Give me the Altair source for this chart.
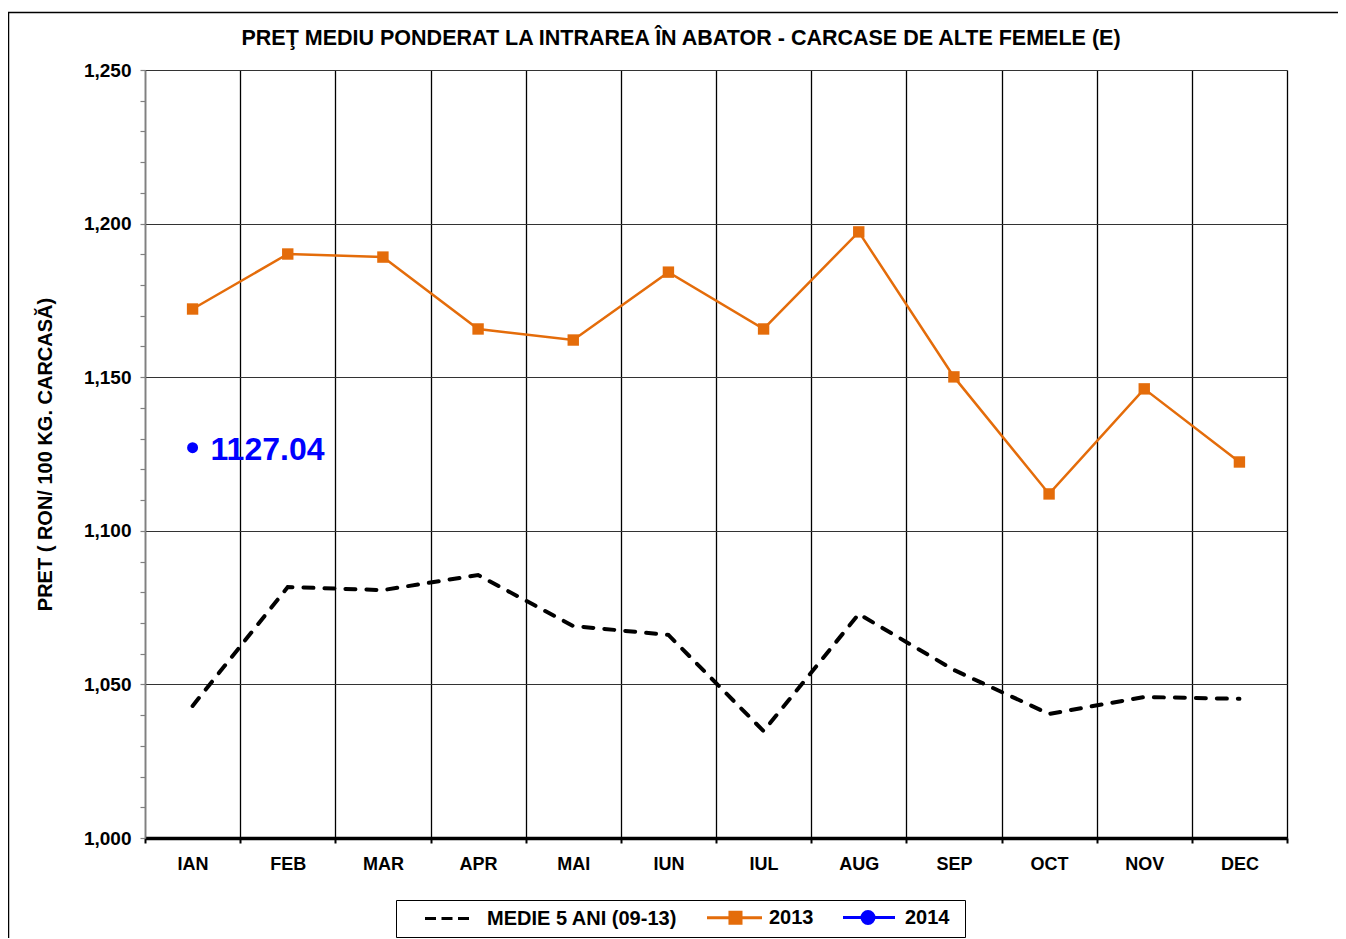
import altair as alt
import pandas as pd

MONTHS = ["IAN", "FEB", "MAR", "APR", "MAI", "IUN", "IUL", "AUG", "SEP", "OCT", "NOV", "DEC"]
MEDIE_5_ANI = [1043.0, 1081.7, 1080.7, 1085.6, 1069.0, 1066.1, 1034.8, 1072.9, 1054.7, 1040.4, 1045.9, 1045.3]
AN_2013 = [1172.2, 1190.1, 1189.1, 1165.7, 1162.1, 1184.2, 1165.7, 1197.3, 1150.1, 1112.0, 1146.2, 1122.4]
AN_2014_MONTHS = ["IAN"]
AN_2014 = [1127.04]
SERIES = ["MEDIE 5 ANI (09-13)", "2013", "2014"]
COLORS = ["#000000", "#E46C0A", "#0000FF"]
Y_TICKS = list(range(1000, 1251, 10))

TITLE = "PREŢ MEDIU PONDERAT LA INTRAREA ÎN ABATOR - CARCASE DE ALTE  FEMELE (E)"
Y_TITLE = "PRET ( RON/ 100 KG. CARCASĂ)"
FONT = "Liberation Sans"

# legend symbols: line + marker drawn as custom paths (units of sqrt(size)/2)
LEGEND_PATHS = [
    "M-1,0H0.375M1.0625,0H2.4375M3.125,0H4.5",
    "M-1,0H5.875M1.87,-0.69H3.25V0.69H1.87Z",
    "M-1,0H5.5M1.375,0A0.75,0.75 0 1,0 2.875,0A0.75,0.75 0 1,0 1.375,0ZM12.6,0",
]

df = pd.DataFrame({
    "luna": MONTHS + MONTHS,
    "valoare": MEDIE_5_ANI + AN_2013,
    "serie": [SERIES[0]] * len(MONTHS) + [SERIES[1]] * len(MONTHS),
})
df14 = pd.DataFrame({
    "luna": AN_2014_MONTHS,
    "valoare": AN_2014,
    "eticheta": [f"{v:.2f}" for v in AN_2014],
})
df_leg = pd.DataFrame({"serie": SERIES})
df_frame = pd.DataFrame({"f": [0]})

x_enc = alt.X(
    "luna:N",
    sort=MONTHS,
    bandPosition=0.5,
    scale=alt.Scale(type="band", domain=MONTHS, paddingInner=0, paddingOuter=0),
    axis=alt.Axis(
        title=None,
        tickBand="extent",
        labelAngle=0,
        labelFont=FONT,
        labelFontSize=18,
        labelFontWeight="bold",
        labelColor="black",
        labelPadding=12,
        tickSize=5,
        tickWidth=2,
        tickColor="black",
        domainColor="black",
        domainWidth=3.5,
        grid=True,
        gridColor="black",
        gridWidth=1.3,
    ),
)
y_enc = alt.Y(
    "valoare:Q",
    scale=alt.Scale(domain=[1000, 1250], nice=False, zero=False),
    axis=alt.Axis(
        title=Y_TITLE,
        values=Y_TICKS,
        labelExpr="datum.value % 50 === 0 ? format(datum.value, ',') : ''",
        labelFont=FONT,
        labelFontSize=19,
        labelFontWeight="bold",
        labelColor="black",
        labelPadding=9,
        tickSize=5,
        tickWidth=1.2,
        tickColor="#808080",
        domainColor="#808080",
        domainWidth=1.5,
        grid=True,
        gridColor="#333333",
        gridWidth=1.2,
        gridOpacity={"condition": {"test": "datum.value % 50 === 0", "value": 1}, "value": 0},
        titleFont=FONT,
        titleFontSize=20,
        titleFontWeight="bold",
        titleColor="black",
        titleAngle=270,
        titleX=-100,
        titleY=384,
        titleAlign="center",
        titleBaseline="middle",
    ),
)

base = alt.Chart(df)

medie = base.mark_line(
    color="black", strokeWidth=4, strokeDash=[10, 11], strokeCap="round"
).encode(x=x_enc, y=y_enc).transform_filter(alt.datum.serie == SERIES[0])

line13 = base.mark_line(color=COLORS[1], strokeWidth=2.5).encode(
    x=x_enc, y=y_enc
).transform_filter(alt.datum.serie == SERIES[1])

pts13 = base.mark_point(
    shape="square", filled=True, size=130, color=COLORS[1], opacity=1
).encode(x=x_enc, y=y_enc).transform_filter(alt.datum.serie == SERIES[1])

pt14 = alt.Chart(df14).mark_point(
    shape="circle", filled=True, size=120, color=COLORS[2], opacity=1
).encode(x=x_enc, y=y_enc)

txt14 = alt.Chart(df14).mark_text(
    align="left", baseline="middle", dx=18, dy=2, font=FONT, fontSize=32,
    fontWeight="bold", color=COLORS[2]
).encode(x=x_enc, y=y_enc, text="eticheta:N")

leg = alt.Legend(
    title=" ",
    titleOrient="left",
    titlePadding=20,
    titleFontSize=11,
    orient="none",
    legendX=251,
    legendY=830,
    direction="horizontal",
    columns=3,
    strokeColor="black",
    padding=7,
    labelFont=FONT,
    labelFontSize=20,
    labelFontWeight="bold",
    labelColor="black",
    labelOffset=44,
    labelLimit=400,
    columnPadding=23,
    symbolSize=256,
    symbolStrokeWidth=3,
)

legend_layer = alt.Chart(df_leg).mark_point(filled=True, opacity=1).encode(
    fill=alt.Fill("serie:N", scale=alt.Scale(domain=SERIES, range=COLORS), legend=leg),
    stroke=alt.Stroke("serie:N", scale=alt.Scale(domain=SERIES, range=COLORS), legend=leg),
    shape=alt.Shape("serie:N", scale=alt.Scale(domain=SERIES, range=LEGEND_PATHS), legend=leg),
).transform_filter("false")

frame = alt.Chart(df_frame).mark_rect(
    fillOpacity=0, stroke="black", strokeWidth=1.5
).encode(
    x=alt.value(-136.5), x2=alt.value(1230), y=alt.value(-57.5), y2=alt.value(900)
)

chart = alt.layer(
    frame, medie, line13, pts13, pt14, txt14, legend_layer
).properties(
    width=1142,
    height=768,
    autosize=alt.AutoSizeParams(type="none"),
    padding={"left": 137, "top": 62, "right": 51, "bottom": 100},
    title=alt.TitleParams(
        text=TITLE,
        font=FONT,
        fontSize=21.5,
        fontWeight="bold",
        color="black",
        anchor="middle",
        frame="group",
        dx=-35,
        offset=-38,
    ),
).configure_view(
    stroke="transparent"
).configure_legend(
    strokeWidth=1.5
).configure(
    font=FONT,
    background="white",
)

chart.save("out.html", embed_options={"renderer": "svg", "actions": False})
